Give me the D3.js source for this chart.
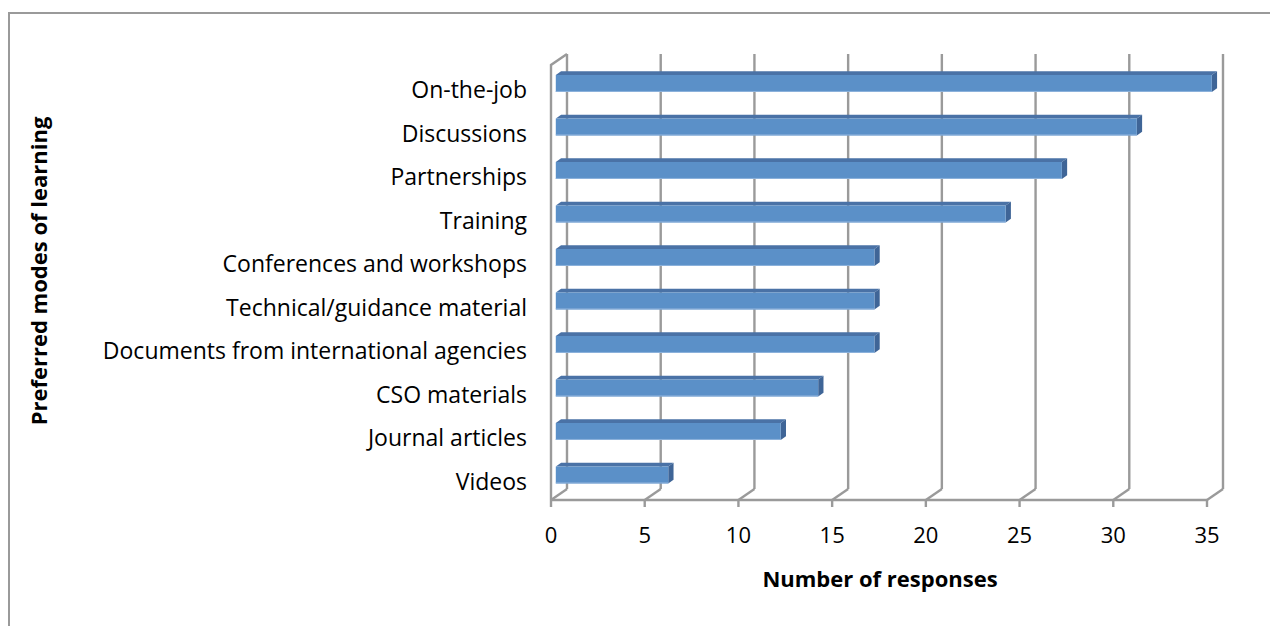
<!DOCTYPE html>
<html><head><meta charset="utf-8">
<script src="https://cdn.jsdelivr.net/npm/d3@7"></script>
<style>body{margin:0;background:#fff}svg{display:block}text{font-family:"Open Sans",sans-serif;fill:#000}</style>
</head><body><svg id="c" width="1270" height="626"></svg>
<script>
const categories = ["On-the-job","Discussions","Partnerships","Training","Conferences and workshops","Technical/guidance material","Documents from international agencies","CSO materials","Journal articles","Videos"];
const values = [35,31,27,24,17,17,17,14,12,6];
const xTicks = [0,5,10,15,20,25,30,35];
const xTitle = "Number of responses";
const yTitle = "Preferred modes of learning";

const svg = d3.select("#c");
svg.append("rect").attr("x",9).attr("y",13).attr("width",1270).attr("height",640)
  .attr("fill","none").attr("stroke","#9a9a9a").attr("stroke-width",2);

const x = d3.scaleLinear().domain([0,35]).range([551,1207]);
const y = d3.scaleBand().domain(categories).range([65,500]).paddingInner(0).paddingOuter(0);
const DX = 16, DY = -11;
const P = (v, yy, f) => [x(v) + f*DX, yy + f*DY];
const grid = "#9a9a9a";
const sw = 2.4;
const g = svg.append("g");

xTicks.forEach(t => {
  const [bx, by] = P(t, 500, 1);
  const [tx, ty] = P(t, 65, 1);
  g.append("line").attr("x1",bx).attr("y1",by).attr("x2",tx).attr("y2",ty)
    .attr("stroke",grid).attr("stroke-width",sw);
  g.append("line").attr("x1",x(t)).attr("y1",500).attr("x2",bx).attr("y2",by)
    .attr("stroke",grid).attr("stroke-width",sw);
  g.append("line").attr("x1",x(t)).attr("y1",500).attr("x2",x(t)).attr("y2",507)
    .attr("stroke",grid).attr("stroke-width",sw);
  g.append("text").attr("x",x(t)).attr("y",543).attr("text-anchor","middle")
    .attr("font-size",22).text(t);
});
const [lx, ly] = P(0, 65, 1);
g.append("path").attr("d",`M${x(0)},500 L${x(0)},65 L${lx},${ly}`)
  .attr("fill","none").attr("stroke",grid).attr("stroke-width",sw);
g.append("line").attr("x1",x(0)).attr("y1",500).attr("x2",x(35)).attr("y2",500)
  .attr("stroke",grid).attr("stroke-width",sw);

const f1 = 0.3, f2 = 0.63, half = 8.5;
categories.forEach((c, i) => {
  const v = values[i];
  const yc = y(c) + y.bandwidth()/2;
  const a = P(0, yc-half, f1), b = P(v, yc-half, f1), cc = P(v, yc+half, f1), d = P(0, yc+half, f1);
  const bt = P(v, yc-half, f2), at = P(0, yc-half, f2), ct = P(v, yc+half, f2);
  g.append("path").attr("d",`M${a}L${at}L${bt}L${b}Z`).attr("fill","#4a72a6");
  g.append("path").attr("d",`M${b}L${bt}L${ct}L${cc}Z`).attr("fill","#3f6597");
  g.append("path").attr("d",`M${a}L${b}L${cc}L${d}Z`).attr("fill","#5b90c8");
  g.append("line").attr("x1",d[0]).attr("y1",d[1]-0.5).attr("x2",cc[0]).attr("y2",cc[1]-0.5)
    .attr("stroke","#8fb3dc").attr("stroke-width",1);
  g.append("text").attr("x",527).attr("y",yc+11.5).attr("text-anchor","end")
    .attr("font-size",23).text(c);
});

svg.append("text").attr("x",880).attr("y",587).attr("text-anchor","middle")
  .attr("font-size",22).attr("font-weight","bold").text(xTitle);
svg.append("text").attr("transform","translate(47,271) rotate(-90)").attr("text-anchor","middle")
  .attr("font-size",22).attr("font-weight","bold").text(yTitle);
</script></body></html>
